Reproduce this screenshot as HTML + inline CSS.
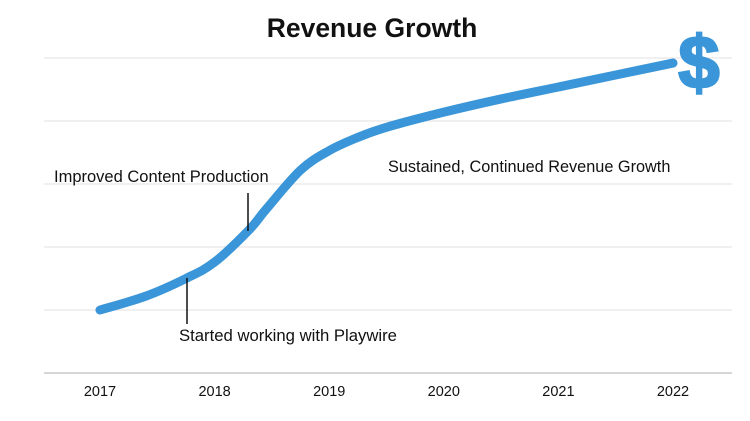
<!DOCTYPE html>
<html><head><meta charset="utf-8"><style>
body{margin:0;background:#fff;}
svg{display:block;font-family:"Liberation Sans",sans-serif;}
</style></head><body>
<svg id="chart" width="750" height="421">
<text x="372" y="37" text-anchor="middle" font-size="26.5" font-weight="bold" fill="#111">Revenue Growth</text>
<g id="grid"></g>
<g id="xticks"></g>
<path id="line" fill="none" stroke="#3a96d8" stroke-width="9" stroke-linecap="round"/>
<text x="699" y="88" text-anchor="middle" font-size="74" font-weight="bold" fill="#3a96d8" stroke="#3a96d8" stroke-width="2.5">$</text>
<line x1="248" y1="193" x2="248" y2="231" stroke="#111" stroke-width="1.5"/>
<text x="54" y="182" font-size="16.5" fill="#111">Improved Content Production</text>
<line x1="187" y1="278" x2="187" y2="324" stroke="#111" stroke-width="1.5"/>
<text x="179" y="341" font-size="16.7" fill="#111">Started working with Playwire</text>
<text x="388" y="172" font-size="16.3" fill="#111">Sustained, Continued Revenue Growth</text>
</svg>
<script>
const years=["2017","2018","2019","2020","2021","2022"];
const pointYears=[2017,2017.4,2017.75,2018,2018.3,2018.45,2018.75,2019,2019.25,2019.5,2020,2020.5,2021,2021.5,2022];
const pointValues=[1.0,1.22,1.5,1.76,2.27,2.6,3.22,3.53,3.74,3.9,4.14,4.35,4.54,4.73,4.92];
const gridValues=[1,2,3,4,5];
const NS="http://www.w3.org/2000/svg";
const x0=44,x1=732,yBase=373,yTop=58,vMax=5;
const xs=y=>100+(y-2017)*114.6;
const ys=v=>yBase-(v/vMax)*(yBase-yTop);
const grid=document.getElementById('grid');
gridValues.forEach(v=>{
  const l=document.createElementNS(NS,'line');
  l.setAttribute('x1',x0);l.setAttribute('x2',x1);
  l.setAttribute('y1',ys(v));l.setAttribute('y2',ys(v));
  l.setAttribute('stroke','#e6e6e6');l.setAttribute('stroke-width','1.2');
  
  
  grid.appendChild(l);
});
const ax=document.createElementNS(NS,'line');
ax.setAttribute('x1',x0);ax.setAttribute('x2',x1);ax.setAttribute('y1',yBase);ax.setAttribute('y2',yBase);
ax.setAttribute('stroke','#c8c8c8');ax.setAttribute('stroke-width','1.5');


grid.appendChild(ax);
const xt=document.getElementById('xticks');
years.forEach(y=>{
  const t=document.createElementNS(NS,'text');
  t.setAttribute('x',xs(+y));t.setAttribute('y',396);
  t.setAttribute('text-anchor','middle');t.setAttribute('font-size','14.5');t.setAttribute('fill','#111');
  t.textContent=y;
  
  
  xt.appendChild(t);
});
const P=pointYears.map((y,i)=>[xs(y),ys(pointValues[i])]);
let d='M'+P[0][0]+','+P[0][1];
for(let i=0;i<P.length-1;i++){
  const p0=P[Math.max(0,i-1)],p1=P[i],p2=P[i+1],p3=P[Math.min(P.length-1,i+2)];
  const c1=[p1[0]+(p2[0]-p0[0])/6,p1[1]+(p2[1]-p0[1])/6];
  const c2=[p2[0]-(p3[0]-p1[0])/6,p2[1]-(p3[1]-p1[1])/6];
  d+=` C${c1[0]},${c1[1]} ${c2[0]},${c2[1]} ${p2[0]},${p2[1]}`;
}
document.getElementById('line').setAttribute('d',d);
</script>
</body></html>
